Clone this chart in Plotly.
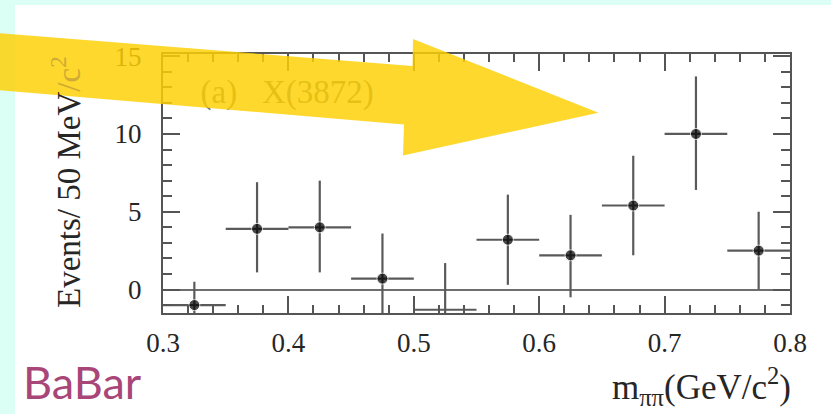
import plotly.graph_objects as go

# m_pipi distribution for X(3872) candidates, 50 MeV bins
mass_centers = [0.325, 0.375, 0.425, 0.475, 0.525, 0.575, 0.625, 0.675, 0.725, 0.775]
events = [-1.0, 3.9, 4.0, 0.7, -1.3, 3.2, 2.2, 5.4, 10.0, 2.5]
err_up = [1.5, 3.0, 3.0, 2.9, 3.0, 2.9, 2.6, 3.2, 3.7, 2.5]
err_down = [1.5, 2.8, 2.9, 2.9, 3.0, 2.9, 2.7, 3.2, 3.6, 2.5]
bin_half_width = 0.025
marker_sizes = [11, 11, 11, 11, 0, 11, 11, 11, 11, 11]

x_ticks = [0.3, 0.4, 0.5, 0.6, 0.7, 0.8]
y_ticks = [0, 5, 10, 15]

W, H = 831, 414
ML, MR, MT, MB = 163, 41, 54, 101
PW, PH = W - ML - MR, H - MT - MB


def to_paper(px, py):
    """Pixel position on the page -> paper coordinates."""
    return (px - ML) / PW, (H - MB - py) / PH


SERIF = "Liberation Serif"
INK = "#262626"
AXIS = "#555555"
DIM = "#cfab34"

fig = go.Figure()

fig.add_trace(go.Scatter(
    x=mass_centers,
    y=events,
    mode="markers",
    marker=dict(color="black", size=marker_sizes),
    error_y=dict(type="data", symmetric=False, array=err_up, arrayminus=err_down,
                 color="#5a5a5a", thickness=2.2, width=0),
    error_x=dict(type="constant", value=bin_half_width, color="#5a5a5a", thickness=2.2, width=0),
    showlegend=False,
    hoverinfo="skip",
))

# panel label sits under the arrow, so it is drawn as a text trace
fig.add_trace(go.Scatter(
    x=[0.399], y=[12.5],
    mode="text",
    text=["(a)\u00a0\u00a0\u00a0X(3872)"],
    textposition="middle center",
    textfont=dict(family=SERIF, size=33, color="#6a6a6a"),
    cliponaxis=False,
    showlegend=False,
    hoverinfo="skip",
))

axis_common = dict(
    showgrid=False,
    showline=True,
    linecolor=AXIS,
    linewidth=2,
    mirror="ticks",
    ticks="inside",
    ticklen=17,
    tickwidth=1.5,
    tickcolor=AXIS,
    tickfont=dict(family=SERIF, size=27, color=INK),
)

fig.update_xaxes(
    range=[0.3, 0.8],
    tickvals=x_ticks,
    ticktext=[f"{v:.1f}" for v in x_ticks],
    zeroline=False,
    minor=dict(dtick=0.02, tick0=0.3, ticks="inside", ticklen=8, tickwidth=1.5, tickcolor=AXIS),
    ticklabelstandoff=5,
    **axis_common,
)
fig.update_yaxes(
    range=[-1.51, 15.14],
    tickvals=y_ticks,
    ticktext=[str(v) for v in y_ticks],
    zeroline=True,
    zerolinecolor="#6e6e6e",
    zerolinewidth=1.5,
    minor=dict(dtick=1, tick0=0, ticks="inside", ticklen=9, tickwidth=1.5, tickcolor=AXIS),
    ticklabelstandoff=14,
    **axis_common,
)

# white slide panel over the mint page background
x0, y0 = to_paper(15, 5)
x1, y1 = to_paper(W + 2, H + 2)
shapes = [dict(type="rect", xref="paper", yref="paper", x0=x0, y0=y1, x1=x1, y1=y0,
               fillcolor="white", line=dict(width=0), layer="below")]

# yellow pointer arrow
arrow_px = [(-3, 33.0), (412.5, 66.0), (413, 39), (598.5, 112.7),
            (403, 155.5), (404, 124.5), (-3, 90.0)]
pts = [to_paper(px, py) for px, py in arrow_px]
path = "M " + " L ".join(f"{x:.5f},{y:.5f}" for x, y in pts) + " Z"
shapes.append(dict(type="path", xref="paper", yref="paper", path=path,
                   fillcolor="rgb(254,208,5)", opacity=0.84,
                   line=dict(width=0), layer="above"))

ytx, yty = to_paper(66, 182)
xtx, xty = to_paper(793, 386)
bbx, bby = to_paper(21, 382)

annotations = [
    dict(text=f"Events/ 50 MeV<span style='color:{DIM}'>/c<sup>2</sup></span>",
         xref="paper", yref="paper", x=ytx, y=yty, textangle=-90,
         xanchor="center", yanchor="middle", showarrow=False,
         font=dict(family=SERIF, size=33, color=INK)),
    dict(text="m<sub>\u03c0\u03c0</sub>(GeV/c<sup>2</sup>)",
         xref="paper", yref="paper", x=xtx, y=xty,
         xanchor="right", yanchor="middle", showarrow=False,
         font=dict(family=SERIF, size=35, color=INK)),
    dict(text="BaBar",
         xref="paper", yref="paper", x=bbx, y=bby,
         xanchor="left", yanchor="middle", showarrow=False,
         font=dict(family="Lato", size=45, color="#a94678")),
]

fig.update_layout(
    width=W, height=H, autosize=False,
    margin=dict(l=ML, r=MR, t=MT, b=MB, pad=0),
    paper_bgcolor="#dbfef5",
    plot_bgcolor="white",
    shapes=shapes,
    annotations=annotations,
)

fig.write_html("out.html")
